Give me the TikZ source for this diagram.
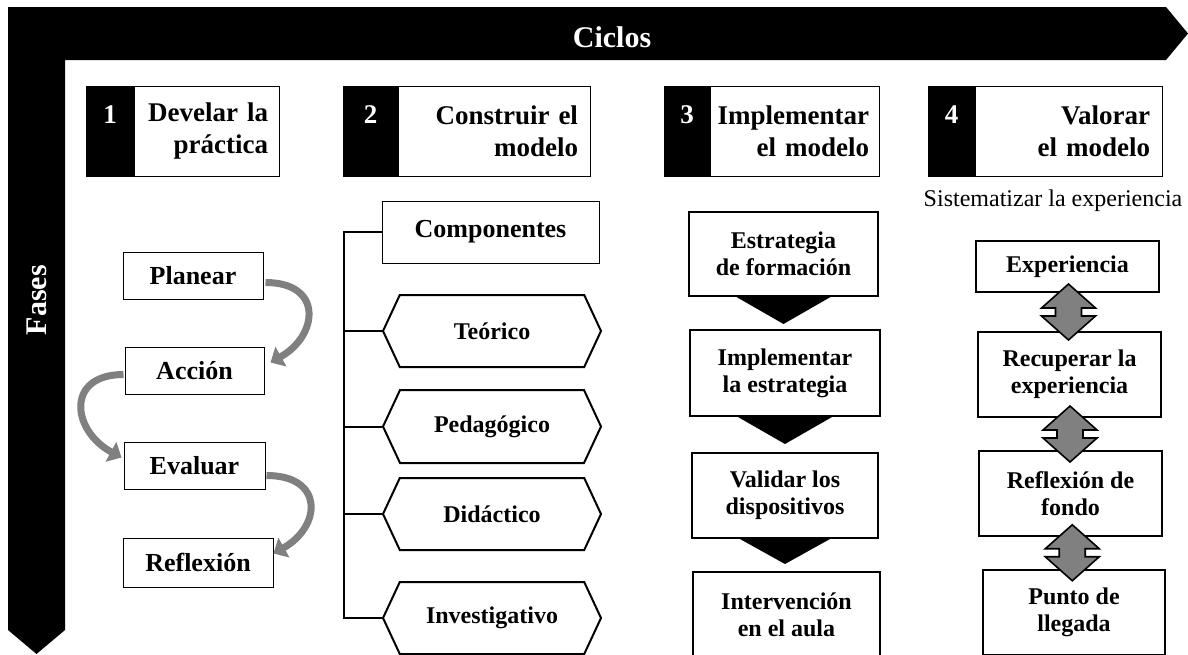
\documentclass[tikz,border=0pt]{standalone}
\usepackage{fontspec}
\setmainfont{Liberation Serif}
\usetikzlibrary{shapes.symbols,arrows.meta,calc}

\tikzset{
    banner/.style={text=white, font=\fontsize{30}{32}\selectfont\bfseries},
    fasebox/.style={draw, fill=white, line width=0.9, minimum height=90, align=right, inner xsep=0, font=\fontsize{27}{32}\selectfont\bfseries},
    num/.style={text=white, font=\fontsize{27}{32}\selectfont\bfseries},
    paso/.style={draw, line width=1, inner sep=0, font=\fontsize{26}{28}\selectfont\bfseries},
    hexa/.style={signal, signal to=east and west, signal pointer angle=130, draw, line width=2, inner sep=0, minimum width=218, font=\fontsize{24}{27}\selectfont\bfseries},
    etapa/.style={draw, line width=2, inner sep=0, align=center, font=\fontsize{24}{27}\selectfont\bfseries},
    giro/.style={draw=black!50, line width=7, -{Triangle[length=12pt,width=22pt]}},
    dblarr/.pic={\filldraw[fill=black!50, line width=1.6] (0,-28) -- (-27,-4) -- (-13,-4) -- (-13,4) -- (-27,4) -- (0,28) -- (27,4) -- (13,4) -- (13,-4) -- (27,-4) -- cycle;}
}

\begin{document}
\begin{tikzpicture}[x=1pt,y=-1pt]
    \useasboundingbox (0,0) rectangle (1188,654);
    \clip (0,0) rectangle (1188,654);

    \fill (8,7) -- (1166,7) -- (1188,33.5) -- (1166,60) -- (65,60) -- (65,630) -- (36.5,654) -- (8,630) -- cycle;
    \node[banner] (ciclos) at (612,37) {Ciclos};
    \node[banner, rotate=90] (fases) at (37,300) {Fases};

    % fases
    \node[fasebox, minimum width=193, text width=171] (h1) at (182.5,131) {Develar la\\práctica};
    \fill (h1.north west) rectangle ($(h1.south west)+(49,0)$);
    \node[num] at ($(h1.west)+(24.5,-16)$) {1};

    \node[fasebox, minimum width=247, text width=223] (h2) at (466.5,131) {Construir el\\modelo};
    \fill (h2.north west) rectangle ($(h2.south west)+(56,0)$);
    \node[num] at ($(h2.west)+(28,-16)$) {2};

    \node[fasebox, minimum width=215, text width=195] (h3) at (771.5,131) {Implementar\\el modelo};
    \fill (h3.north west) rectangle ($(h3.south west)+(47,0)$);
    \node[num] at ($(h3.west)+(23.5,-16)$) {3};

    \node[fasebox, minimum width=234, text width=210] (h4) at (1045,131) {Valorar\\el modelo};
    \fill (h4.north west) rectangle ($(h4.south west)+(48,0)$);
    \node[num] at ($(h4.west)+(24,-16)$) {4};

    % ciclo 1
    \node[paso, minimum width=140, minimum height=47] (plan) at (193,275.5) {Planear};
    \node[paso, minimum width=139, minimum height=47] (acc) at (194.5,370.5) {Acción};
    \node[paso, minimum width=141, minimum height=47] (eva) at (194.5,465.5) {Evaluar};
    \node[paso, minimum width=150, minimum height=49] (refl) at (198,562.5) {Reflexión};

    \draw[giro] ($(plan.east)+(2,7)$) .. controls +(58,0) and +(48,-27) .. ($(acc.east)+(6,-8)$);
    \draw[giro] ($(acc.west)+(-1,4)$) .. controls +(-58,0) and +(-50,-27) .. ($(eva.west)+(-2,-8)$);
    \draw[giro] ($(eva.east)+(1,10)$) .. controls +(58,0) and +(48,-27) .. ($(refl.east)+(0,-9)$);

    % componentes
    \node[paso, minimum width=217, minimum height=62] (comp) at (490.5,232) {Componentes};
    \node[hexa, minimum height=72] (teo) at (492,331) {Teórico};
    \node[hexa, minimum height=73] (ped) at (492,426.5) {Pedagógico};
    \node[hexa, minimum height=72] (did) at (492,514) {Didáctico};
    \node[hexa, minimum height=72] (inv) at (492,618) {Investigativo};

    \coordinate (spine) at (344,232);
    \draw[line width=2] (comp.west) -- (spine) -- (spine |- inv.west) -- (inv.west);
    \draw[line width=2] (teo.west) -- (teo.west -| spine);
    \draw[line width=2] (ped.west) -- (ped.west -| spine);
    \draw[line width=2] (did.west) -- (did.west -| spine);

    % implementar
    \node[etapa, minimum width=189, minimum height=84] (estr) at (783.5,254) {Estrategia\\de formación};
    \node[etapa, minimum width=190, minimum height=86] (impl) at (785,373) {Implementar\\la estrategia};
    \node[etapa, minimum width=186, minimum height=85] (vali) at (785,495.5) {Validar los\\dispositivos};
    \node[etapa, minimum width=187, minimum height=85] (inter) at (786.5,614.5) {Intervención\\en el aula};

    \fill ($(estr.south)+(-47,0)$) -- ($(estr.south)+(47,0)$) -- ($(estr.south)+(0,27)$) -- cycle;
    \fill ($(impl.south)+(-47,0)$) -- ($(impl.south)+(47,0)$) -- ($(impl.south)+(0,27)$) -- cycle;
    \fill ($(vali.south)+(-45,0)$) -- ($(vali.south)+(45,0)$) -- ($(vali.south)+(0,25)$) -- cycle;

    % valorar
    \node[font=\fontsize{24}{27}\selectfont] (sist) at (1053,201) {Sistematizar la experiencia};
    \node[etapa, minimum width=183, minimum height=51] (expe) at (1067.5,266.5) {Experiencia};
    \node[etapa, minimum width=183, minimum height=85] (recu) at (1069.5,374.5) {Recuperar la\\experiencia};
    \node[etapa, minimum width=183, minimum height=85] (refo) at (1070.5,493.5) {Reflexión de\\fondo};
    \node[etapa, minimum width=182, minimum height=85] (punto) at (1074,612) {Punto de\\llegada};

    \pic at ($(expe.south)!0.5!(recu.north)$) {dblarr};
    \pic at ($(recu.south)!0.5!(refo.north)$) {dblarr};
    \pic at ($(refo.south)!0.5!(punto.north)$) {dblarr};
\end{tikzpicture}
\end{document}
